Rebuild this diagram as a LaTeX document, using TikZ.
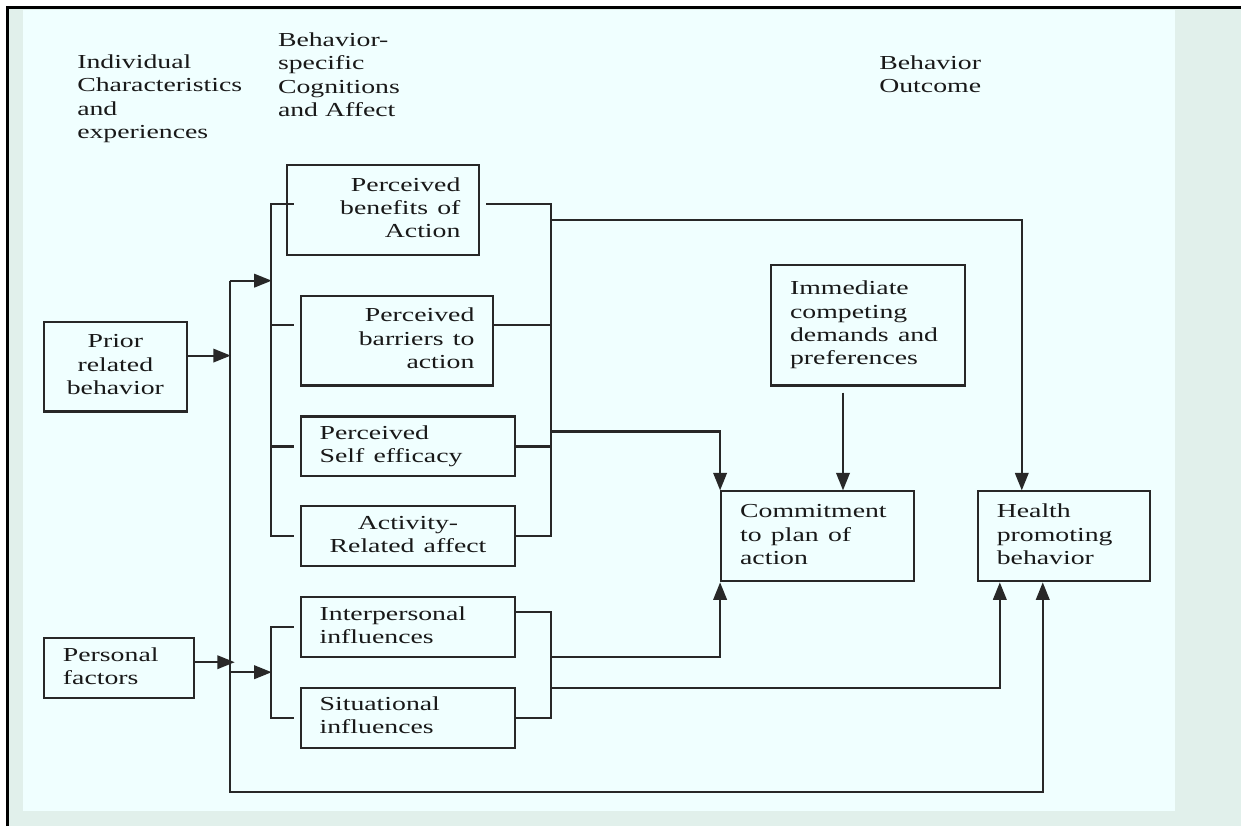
\documentclass[tikz,border=0pt]{standalone}
\usepackage{fontspec}
\setmainfont{Liberation Serif}
\usepackage{graphicx}
\usetikzlibrary{arrows.meta}

\definecolor{slidebg}{RGB}{225,240,235}
\definecolor{panelbg}{RGB}{240,255,255}
\definecolor{inkgray}{RGB}{40,40,40}

% wide serif text, as on the slide
\newcommand{\wtxt}[2]{\scalebox{1.4}[1]{\begin{tabular}{@{}#1@{}}#2\end{tabular}}}

\tikzset{
  box/.style={draw=inkgray, line width=1.2pt, inner xsep=0.38cm, inner ysep=0pt,
    text=black!90, font=\fontsize{11.3}{13.3}\selectfont},
  head/.style={anchor=north west, inner sep=0pt, text=black!90, font=\fontsize{11.3}{13.3}\selectfont},
  link/.style={draw=inkgray, line width=1.2pt},
  >={Triangle[length=0.35cm,width=0.27cm]}
}

\begin{document}
\begin{tikzpicture}[x=0.02cm, y=-0.02cm]
        % Slide background
        \fill[white] (0,0) rectangle (1242,827);
        \fill[slidebg] (9,9) rectangle (1242,827);
        \fill[panelbg] (23,10) rectangle (1176,812);
        \draw[line width=1.7pt] (7.5,827) -- (7.5,7.5) -- (1242,7.5);
        \useasboundingbox (0,0) rectangle (1242,827);

        % Column headings
        \node[head] (hindiv) at (77,52) {\wtxt{l}{Individual\\Characteristics\\and\\experiences}};
        \node[head] (hcog) at (278,30) {\wtxt{l}{Behavior-\\specific\\Cognitions\\and Affect}};
        \node[head] (hout) at (880,53) {\wtxt{l}{Behavior\\Outcome}};

        % Individual characteristics
        \node[box, text width=2.10cm, align=center, minimum height=1.8cm] (prior) at (115.5,367) {\wtxt{c}{Prior\\related\\behavior}};
        \node[box, text width=2.24cm, align=left, minimum height=1.2cm] (personal) at (119,669) {\wtxt{l}{Personal\\factors}};

        % Cognitions and affect
        \node[box, text width=3.10cm, align=right, minimum height=1.8cm] (benefit) at (383.5,210) {\wtxt{r}{Perceived\\benefits of\\Action}};
        \node[box, text width=3.10cm, align=right, minimum height=1.8cm] (barrier) at (397.5,341) {\wtxt{r}{Perceived\\barriers to\\action}};
        \node[box, text width=3.54cm, align=left, minimum height=1.2cm] (selfeff) at (408.5,447) {\wtxt{l}{Perceived\\Self efficacy}};
        \node[box, text width=3.54cm, align=center, minimum height=1.2cm] (activity) at (408.5,537) {\wtxt{c}{Activity-\\Related affect}};
        \node[box, text width=3.54cm, align=left, minimum height=1.2cm] (interp) at (408.5,628) {\wtxt{l}{Interpersonal\\influences}};
        \node[box, text width=3.54cm, align=left, minimum height=1.2cm] (situat) at (408.5,718.5) {\wtxt{l}{Situational\\influences}};

        % Outcome side
        \node[box, text width=3.12cm, align=left, minimum height=2.42cm] (immediate) at (869,325.5) {\wtxt{l}{Immediate\\competing\\demands and\\preferences}};
        \node[box, text width=3.10cm, align=left, minimum height=1.8cm] (commit) at (818.5,537) {\wtxt{l}{Commitment\\to plan of\\action}};
        \node[box, text width=2.68cm, align=left, minimum height=1.8cm] (health) at (1065,537) {\wtxt{l}{Health\\promoting\\behavior}};

        % Junctions
        \coordinate (trunktop) at (230,281);
        \coordinate (trunkmid) at (230,673);
        \coordinate (trunkbot) at (230,793);
        \coordinate (upjoin) at (551,220);
        \coordinate (midjoin) at (551,432);
        \coordinate (lojoin) at (551,658);
        \coordinate (lojoinb) at (551,689);
        \coordinate (imm) at ([xshift=-0.5cm,yshift=-0.12cm]immediate.south);

        % Trunk from individual characteristics
        \draw[link,->] ([yshift=0.22cm]prior.east) -- ++(0.86cm,0pt);
        \draw[link,->] ([yshift=0.12cm]personal.east) -- ++(0.80cm,0pt);
        \draw[link,->] (trunktop) -- (trunkbot) -| ([xshift=-0.42cm]health.south);
        \draw[link,->] (trunktop) -- ++(0.84cm,0pt);
        \draw[link,->] (trunkmid) -- ++(0.84cm,0pt);

        % Upper brackets
        \draw[link] ([xshift=0.16cm,yshift=0.12cm]benefit.west) -- ++(-0.46cm,0pt) |- ([xshift=-0.12cm]activity.west);
        \draw[link] ([xshift=-0.12cm,yshift=0.32cm]barrier.west) -- ++(-0.46cm,0pt);
        \draw[link] ([xshift=-0.12cm]selfeff.west) -- ++(-0.46cm,0pt);
        \draw[link] ([xshift=0.12cm,yshift=0.12cm]benefit.east) -- ++(1.30cm,0pt) |- (activity.east);
        \draw[link] ([yshift=0.32cm]barrier.east) -- ++(1.14cm,0pt);
        \draw[link] (selfeff.east) -- ++(0.70cm,0pt);

        % Lower brackets
        \draw[link] ([xshift=-0.12cm]interp.west) -- ++(-0.46cm,0pt) |- ([xshift=-0.12cm]situat.west);
        \draw[link] ([yshift=0.30cm]interp.east) -- ++(0.70cm,0pt) |- (situat.east);

        % Into commitment and behavior
        \draw[link,->] (upjoin) -| ([xshift=-0.84cm]health.north);
        \draw[link,->] (midjoin) -| (commit.north west);
        \draw[link,->] (imm) -- (imm |- commit.north);
        \draw[link,->] (lojoin) -| (commit.south west);
        \draw[link,->] (lojoinb) -| ([xshift=-1.28cm]health.south);
\end{tikzpicture}
\end{document}
